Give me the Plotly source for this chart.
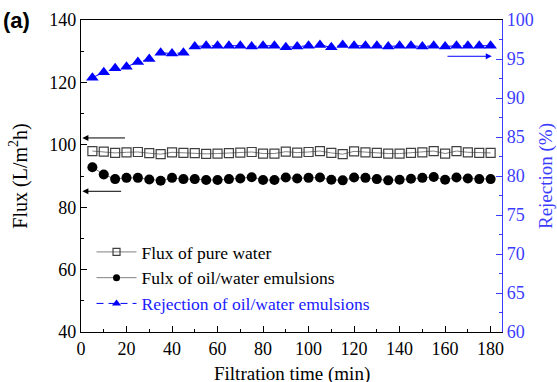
import plotly.graph_objects as go

# Filtration time (min)
time_min = [5, 10, 15, 20, 25, 30, 35, 40, 45, 50, 55, 60, 65, 70, 75, 80, 85, 90,
            95, 100, 105, 110, 115, 120, 125, 130, 135, 140, 145, 150, 155, 160, 165,
            170, 175, 180]

# Flux of pure water (L/m2h)
flux_pure = [98.0, 97.8, 97.4, 97.6, 97.7, 97.3, 97.0, 97.6, 97.4, 97.3, 97.1, 97.2,
             97.3, 97.5, 97.7, 97.2, 97.2, 97.8, 97.5, 97.7, 98.0, 97.4, 97.0, 97.9,
             97.6, 97.4, 97.2, 97.2, 97.4, 97.6, 98.0, 97.2, 98.0, 97.6, 97.4, 97.4]

# Flux of oil/water emulsions (L/m2h)
flux_emulsion = [92.8, 90.5, 89.0, 89.4, 89.4, 88.9, 88.5, 89.4, 89.0, 89.0, 88.7, 88.7,
                 89.0, 89.2, 89.6, 88.7, 88.7, 89.5, 89.2, 89.4, 89.5, 88.8, 88.6, 89.5,
                 89.4, 89.0, 88.6, 88.8, 89.1, 89.4, 89.7, 88.8, 89.5, 89.2, 89.0, 89.0]

# Rejection of oil/water emulsions (%)
rejection = [92.6, 93.3, 93.8, 94.0, 94.6, 95.0, 95.8, 95.7, 95.8, 96.6, 96.7, 96.7,
             96.7, 96.7, 96.6, 96.7, 96.7, 96.5, 96.6, 96.7, 96.8, 96.5, 96.8, 96.7,
             96.7, 96.7, 96.6, 96.7, 96.7, 96.6, 96.7, 96.6, 96.7, 96.7, 96.7, 96.7]

BLUE = "#0000ff"
AXBLUE = "#3c3cff"
SERIF = "Liberation Serif, Times New Roman, serif"

series = [
    dict(y=flux_pure, name="Flux of pure water", axis="y",
         line=dict(color="#808080", width=1),
         marker=dict(symbol="square-open", size=9, color="#404040", line=dict(width=1.2)),
         legend_size=7),
    dict(y=flux_emulsion, name="Fulx of oil/water emulsions", axis="y",
         line=dict(color="#808080", width=1),
         marker=dict(symbol="circle", size=10, color="black"),
         legend_size=7),
    dict(y=rejection, name="<span style='color:#2020ff'>Rejection of oil/water emulsions</span>",
         axis="y2",
         line=dict(color=BLUE, width=1, dash="dash"),
         marker=dict(symbol="triangle-up", size=11, color=BLUE),
         legend_size=8),
]

fig = go.Figure()

# data traces
for s in series:
    fig.add_trace(go.Scatter(x=time_min, y=s["y"], yaxis=s["axis"], mode="lines+markers",
                             line=s["line"], marker=s["marker"], showlegend=False))

# legend entries with smaller symbols
for s in series:
    m = dict(s["marker"])
    m["size"] = s["legend_size"]
    lg_line = dict(s["line"])
    if lg_line.get("dash"):
        lg_line["dash"] = "7px,5px"
    fig.add_trace(go.Scatter(x=[None], y=[None], yaxis=s["axis"], mode="lines+markers",
                             name=s["name"], line=lg_line, marker=m, showlegend=True))

# arrows pointing each series to its axis
arrow_specs = [
    dict(x=0.6, y=102.2, ax=20, ay=102.2, yref="y", color="black"),
    dict(x=0.6, y=85.1, ax=18.3, ay=85.1, yref="y", color="black"),
    dict(x=180.5, y=95.35, ax=160.4, ay=95.35, yref="y2", color=BLUE),
]
for a in arrow_specs:
    fig.add_annotation(x=a["x"], y=a["y"], ax=a["ax"], ay=a["ay"], xref="x", yref=a["yref"],
                       axref="x", ayref=a["yref"], text="", showarrow=True,
                       arrowhead=2, arrowsize=1.2, arrowwidth=1, arrowcolor=a["color"])

fig.add_annotation(x=-0.19, y=1.0, xref="paper", yref="paper", text="<b>(a)</b>",
                   showarrow=False, xanchor="left", yanchor="middle",
                   font=dict(family="Liberation Sans, Arial", size=22, color="black"))

# x-axis title
fig.add_annotation(x=0.5, y=-0.136, xref="paper", yref="paper", text="Filtration time (min)",
                   showarrow=False, xanchor="center", yanchor="middle",
                   font=dict(family=SERIF, size=19, color="black"))

fig.update_layout(
    width=557, height=382,
    margin=dict(l=81, r=55, t=20, b=50),
    paper_bgcolor="white", plot_bgcolor="white",
    font=dict(family=SERIF, size=18, color="black"),
    showlegend=True,
    legend=dict(x=0.025, y=0.314, xanchor="left", yanchor="top",
                bgcolor="rgba(0,0,0,0)", font=dict(family=SERIF, size=17.5, color="black"),
                tracegroupgap=0, itemwidth=40),
    xaxis=dict(range=[0, 185], tickvals=[0, 20, 40, 60, 80, 100, 120, 140, 160, 180],
               ticks="inside", ticklen=6, tickcolor="black", showgrid=False, zeroline=False,
               showline=True, linecolor="black", linewidth=1.2, mirror=True, automargin=False,
               minor=dict(tickvals=[10, 30, 50, 70, 90, 110, 130, 150, 170], ticks="inside",
                          ticklen=3, tickcolor="black"),
               tickfont=dict(size=18)),
    yaxis=dict(range=[40, 140], tickvals=[40, 60, 80, 100, 120, 140],
               ticks="inside", ticklen=6, tickcolor="black", showgrid=False, zeroline=False,
               showline=True, linecolor="black", linewidth=1.2, automargin=False,
               minor=dict(tickvals=[50, 70, 90, 110, 130], ticks="inside", ticklen=3,
                          tickcolor="black"),
               title=dict(text="Flux (L/m<sup>2</sup>h)", font=dict(size=20), standoff=16),
               tickfont=dict(size=18)),
    yaxis2=dict(range=[60, 100], overlaying="y", side="right", automargin=False,
                tickvals=[60, 65, 70, 75, 80, 85, 90, 95, 100],
                ticks="inside", ticklen=6, tickcolor=AXBLUE, showgrid=False, zeroline=False,
                showline=True, linecolor=AXBLUE, linewidth=1.2,
                minor=dict(tickvals=[62.5, 67.5, 72.5, 77.5, 82.5, 87.5, 92.5, 97.5],
                           ticks="inside", ticklen=3, tickcolor=AXBLUE),
                title=dict(text="Rejection (%)", font=dict(size=19, color=AXBLUE), standoff=14),
                tickfont=dict(size=18, color=AXBLUE)),
)

fig.write_html("out.html")
